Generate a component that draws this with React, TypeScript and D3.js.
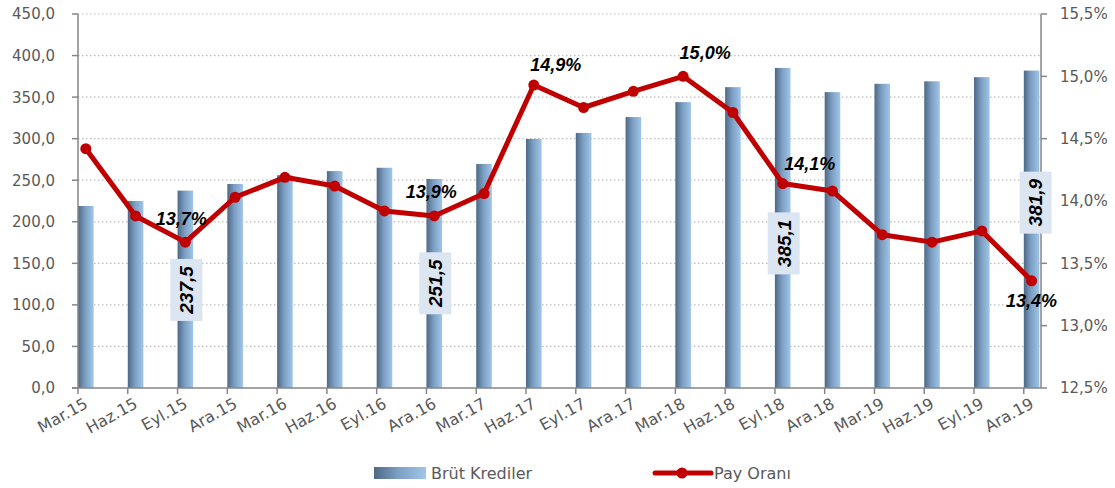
import React from "react";
import {scaleLinear, scalePoint, line} from "d3";

const periods = [
    "Mar.15", "Haz.15", "Eyl.15", "Ara.15",
    "Mar.16", "Haz.16", "Eyl.16", "Ara.16",
    "Mar.17", "Haz.17", "Eyl.17", "Ara.17",
    "Mar.18", "Haz.18", "Eyl.18", "Ara.18",
    "Mar.19", "Haz.19", "Eyl.19", "Ara.19",
];
// Brüt Krediler (left axis)
const brutKrediler = [
    219.0, 225.0, 237.5, 245.5,
    256.0, 261.0, 265.0, 251.5,
    269.6, 299.6, 306.9, 326.0,
    344.0, 362.0, 385.1, 356.0,
    366.0, 369.0, 374.0, 381.9,
];
// Pay Oranı (right axis, %)
const payOrani = [
    14.42, 13.88, 13.67, 14.03,
    14.19, 14.12, 13.92, 13.88,
    14.06, 14.93, 14.75, 14.88,
    15.0, 14.71, 14.14, 14.08,
    13.73, 13.67, 13.76, 13.36,
];
const leftTicks = [0, 50, 100, 150, 200, 250, 300, 350, 400, 450];
const rightTicks = [12.5, 13.0, 13.5, 14.0, 14.5, 15.0, 15.5];

// annotations: which points carry labels, and where they sit
const pctLabels = [
    {i: 2, dx: -4, dy: -17},
    {i: 7, dx: -3, dy: -18},
    {i: 9, dx: 22, dy: -14},
    {i: 12, dx: 22, dy: -17},
    {i: 14, dx: 27, dy: -14},
    {i: 19, dx: 0, dy: 26},
];
const barLabels = [
    {i: 2, at: 118, dx: 1},
    {i: 7, at: 126, dx: 1},
    {i: 14, at: 174, dx: 1},
    {i: 19, at: 223, dx: 4},
];

const width = 1115;
const height = 488;
const plotLeft = 78;
const plotRight = 1041;
const plotTop = 14;
const plotBottom = 388;
const barWidth = 15.6;
const axisColor = "#868686";
const textColor = "#595959";
const tickFont = "'DejaVu Sans', sans-serif";
const labelFont = "'Liberation Sans', Arial, sans-serif";

const fmt = (v: number, digits: number) => v.toFixed(digits).replace(".", ",");

export default function App() {
    const x = scalePoint<string>().domain(periods).range([plotLeft, 1023.8]);
    const yL = scaleLinear().domain([0, 450]).range([plotBottom, plotTop]);
    const yR = scaleLinear().domain([12.5, 15.5]).range([plotBottom, plotTop]);

    const px = (i: number) => (x(periods[i]) || 0) + barWidth / 2;
    const linePath = line<number>()
        .x((d, i) => px(i))
        .y((d) => yR(d))(payOrani) || "";

    return (
        <svg
            width={width}
            height={height}
            style={{position: "absolute", left: 0, top: 0, background: "#fff"}}
        >
            <defs>
                <linearGradient id="barGrad" x1="0" x2="1" y1="0" y2="0">
                    <stop offset="0" stopColor="#4e6885" />
                    <stop offset="0.45" stopColor="#7b9ec2" />
                    <stop offset="1" stopColor="#9fc6ea" />
                </linearGradient>
            </defs>

            {/* gridlines */}
            {leftTicks.slice(1).map((t) => (
                <line
                    key={"g" + t}
                    x1={plotLeft}
                    x2={plotRight}
                    y1={yL(t)}
                    y2={yL(t)}
                    stroke="#bdbdbd"
                    strokeWidth={1.2}
                    strokeDasharray="1.5,2.5"
                />
            ))}

            {/* bars */}
            {brutKrediler.map((v, i) => (
                <rect
                    key={"b" + i}
                    x={x(periods[i])}
                    y={yL(v)}
                    width={barWidth}
                    height={plotBottom - yL(v)}
                    fill="url(#barGrad)"
                />
            ))}

            {/* axes */}
            <line x1={plotLeft} x2={plotLeft} y1={plotTop} y2={plotBottom} stroke={axisColor} strokeWidth={1.5} />
            <line x1={plotRight} x2={plotRight} y1={plotTop} y2={plotBottom} stroke={axisColor} strokeWidth={1.5} />
            <line x1={plotLeft - 6} x2={plotRight} y1={plotBottom} y2={plotBottom} stroke={axisColor} strokeWidth={1.5} />
            {leftTicks.map((t) => (
                <g key={"lt" + t}>
                    <line x1={plotLeft - 6} x2={plotLeft} y1={yL(t)} y2={yL(t)} stroke={axisColor} strokeWidth={1.5} />
                    <text
                        x={55}
                        y={yL(t)}
                        dy="0.36em"
                        textAnchor="end"
                        fontFamily={tickFont}
                        fontSize={15}
                        fill={textColor}
                    >
                        {fmt(t, 1)}
                    </text>
                </g>
            ))}
            {rightTicks.map((t) => (
                <g key={"rt" + t}>
                    <line x1={plotRight} x2={plotRight + 6} y1={yR(t)} y2={yR(t)} stroke={axisColor} strokeWidth={1.5} />
                    <text
                        x={1060}
                        y={yR(t)}
                        dy="0.36em"
                        textAnchor="start"
                        fontFamily={tickFont}
                        fontSize={15}
                        fill={textColor}
                    >
                        {fmt(t, 1) + "%"}
                    </text>
                </g>
            ))}
            {periods.map((p) => (
                <g key={"xt" + p}>
                    <line
                        x1={x(p)}
                        x2={x(p)}
                        y1={plotBottom}
                        y2={plotBottom + 6}
                        stroke={axisColor}
                        strokeWidth={1.5}
                    />
                    <text
                        transform={`translate(${(x(p) || 0) + 11},${plotBottom + 19}) rotate(-29)`}
                        textAnchor="end"
                        fontFamily={tickFont}
                        fontSize={16}
                        fill={textColor}
                    >
                        {p}
                    </text>
                </g>
            ))}

            {/* line series */}
            <path d={linePath} fill="none" stroke="#c00000" strokeWidth={5} strokeLinejoin="round" />
            {payOrani.map((v, i) => (
                <circle key={"m" + i} cx={px(i)} cy={yR(v)} r={5.5} fill="#c00000" />
            ))}

            {/* bar value labels */}
            {barLabels.map((b) => {
                const cx = px(b.i) + b.dx;
                const cy = yL(b.at);
                return (
                    <g key={"bl" + b.i}>
                        <rect x={cx - 16} y={cy - 31} width={32} height={62} fill="#dce6f2" />
                        <text
                            transform={`translate(${cx},${cy}) rotate(-90)`}
                            textAnchor="middle"
                            dy="0.36em"
                            fontFamily={labelFont}
                            fontSize={19}
                            fontWeight="bold"
                            fontStyle="italic"
                            fill="#000"
                        >
                            {fmt(brutKrediler[b.i], 1)}
                        </text>
                    </g>
                );
            })}

            {/* percent labels */}
            {pctLabels.map((l) => (
                <text
                    key={"pl" + l.i}
                    x={px(l.i) + l.dx}
                    y={yR(payOrani[l.i]) + l.dy}
                    textAnchor="middle"
                    fontFamily={labelFont}
                    fontSize={18}
                    fontWeight="bold"
                    fontStyle="italic"
                    fill="#000"
                >
                    {fmt(payOrani[l.i], 1) + "%"}
                </text>
            ))}

            {/* legend */}
            <rect x={374} y={467} width={52} height={12} fill="url(#barGrad)" />
            <text x={431} y={479} fontFamily={tickFont} fontSize={16} fill={textColor}>
                Brüt Krediler
            </text>
            <line x1={655} x2={711} y1={473} y2={473} stroke="#c00000" strokeWidth={5} strokeLinecap="round" />
            <circle cx={682} cy={473} r={5.5} fill="#c00000" />
            <text x={714} y={479} fontFamily={tickFont} fontSize={16} fill={textColor}>
                Pay Oranı
            </text>
        </svg>
    );
}
